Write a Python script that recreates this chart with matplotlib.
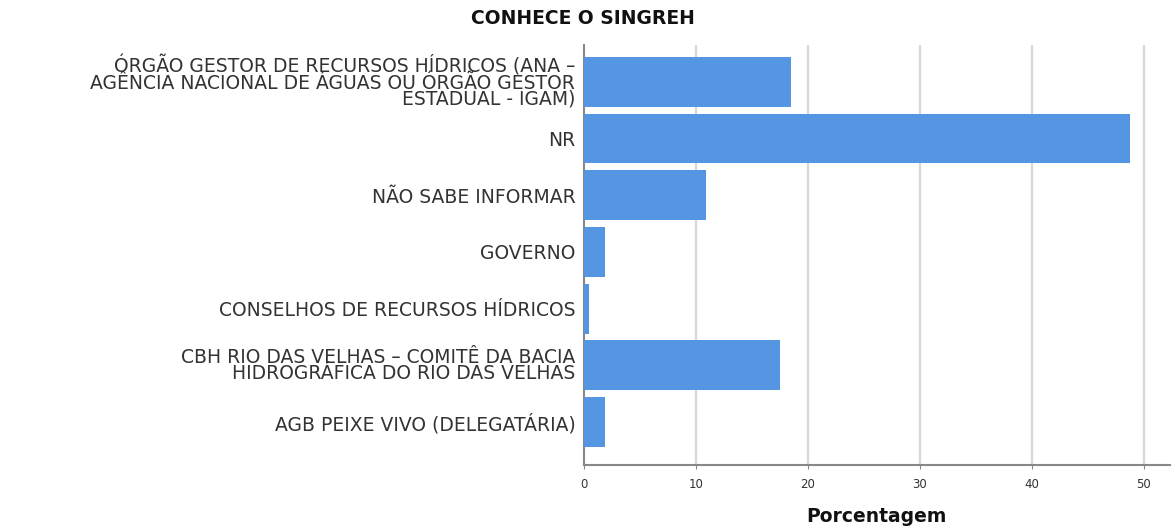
import matplotlib
matplotlib.use("Agg")
import matplotlib.pyplot as plt

# wide-looking sans for the labels
plt.rcParams['font.family'] = ['DejaVu Sans']

# categories top to bottom
categorias = [
    "ÓRGÃO GESTOR DE RECURSOS HÍDRICOS (ANA –\nAGÊNCIA NACIONAL DE ÁGUAS OU ÓRGÃO GESTOR\nESTADUAL - IGAM)",
    "NR",
    "NÃO SABE INFORMAR",
    "GOVERNO",
    "CONSELHOS DE RECURSOS HÍDRICOS",
    "CBH RIO DAS VELHAS – COMITÊ DA BACIA\nHIDROGRÁFICA DO RIO DAS VELHAS",
    "AGB PEIXE VIVO (DELEGATÁRIA)",
]
porcentagem = [18.5, 48.8, 10.9, 1.9, 0.5, 17.5, 1.9]
xticks = [0, 10, 20, 30, 40, 50]

fig = plt.figure(figsize=(11.72, 5.28), dpi=100)
ax = fig.add_axes([0.498, 0.119, 0.500, 0.796])

pos = list(range(len(categorias)))
ax.barh(pos, porcentagem, height=0.88, color="#5596E3", zorder=3)

ax.set_ylim(len(categorias) - 1 + 0.76, -0.65)
ax.set_xlim(0, 52.3)
ax.set_yticks(pos)
ax.set_yticklabels(categorias, fontsize=13.5, color="#333333", linespacing=0.78)
ax.set_xticks(xticks)
ax.set_xticklabels([str(t) for t in xticks], fontsize=8.5, color="#333333")
ax.tick_params(axis='y', length=0, pad=6)
ax.tick_params(axis='x', length=3, color="#888888", pad=6)

ax.grid(axis='x', color="#d8d8d8", linewidth=1.6, zorder=0)
ax.xaxis.get_gridlines()[0].set_visible(False)
for s in ['top', 'right']:
    ax.spines[s].set_visible(False)
for s in ['left', 'bottom']:
    ax.spines[s].set_color("#888888")
    ax.spines[s].set_linewidth(1.5)

ax.set_xlabel("Porcentagem", fontsize=13.5, fontweight='bold', color="#111111", labelpad=12)
fig.text(0.497, 0.965, "CONHECE O SINGREH", fontsize=13.5, fontweight='bold',
         ha='center', va='center', color="#111111")

fig.savefig("out.png", dpi=100)
